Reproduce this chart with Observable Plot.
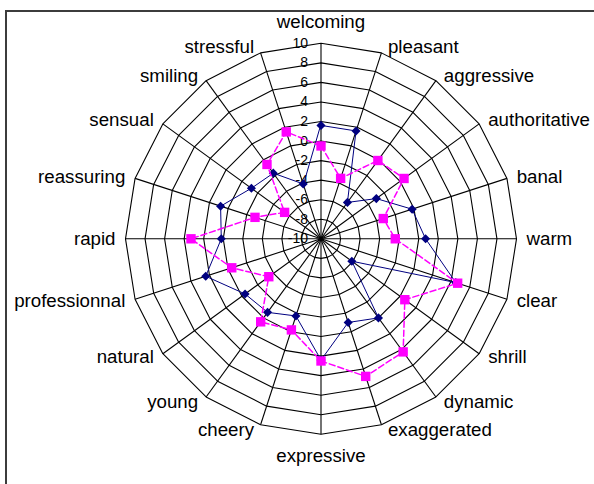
<!DOCTYPE html>
<html>
<head>
<meta charset="utf-8">
<script src="https://cdn.jsdelivr.net/npm/d3@7"></script>
<script src="https://cdn.jsdelivr.net/npm/@observablehq/plot@0.6"></script>
<style>
  html, body { margin: 0; padding: 0; background: #fff; }
  #wrap { position: relative; width: 594px; height: 484px; overflow: hidden; }
  #frame { position: absolute; left: 5px; top: 10px; width: 640px; height: 640px;
           border-top: 2px solid #3c3c3c; border-left: 2px solid #3c3c3c; }
  #chart { position: absolute; left: 0; top: 0; }
</style>
</head>
<body>
<div id="wrap"><div id="frame"></div><div id="chart"></div></div>
<script>
const categories = ["welcoming","pleasant","aggressive","authoritative","banal","warm","clear","shrill","dynamic","exaggerated","expressive","cheery","young","natural","professionnal","rapid","reassuring","sensual","smiling","stressful"];
const seriesNavy = [1.6, 1.6, -5.4, -3.0, -0.2, 0.7, 4.5, -6.1, 0.0, -1.0, 2.4, -1.7, -0.7, -0.4, 2.4, 0.2, 0.8, -1.2, -1.7, -4.1];
const seriesPink = [-0.5, -3.5, -0.1, 0.5, -3.3, -2.4, 4.7, 0.6, 4.3, 4.8, 2.5, -0.2, 0.5, -3.4, -0.4, 3.3, -2.9, -5.4, -0.6, 1.5];
const tickValues = [10, 8, 6, 4, 2, 0, -2, -4, -6, -8, -10];

const W = 594, H = 484;
const cx = 320.5, cy = 238.3, R = 195.5;
const vMin = -10, vMax = 10;
const k = R / (vMax - vMin);          // px per value unit
const n = categories.length;
const ang = i => i * 2 * Math.PI / n;
const rad = v => v - vMin;
const pt = (i, v) => ({x: rad(v) * Math.sin(ang(i)), y: rad(v) * Math.cos(ang(i))});

const navy = seriesNavy.map((v, i) => ({cat: categories[i], v, ...pt(i, v)}));
const pink = seriesPink.map((v, i) => ({cat: categories[i], v, ...pt(i, v)}));

const rings = tickValues.filter(v => v > vMin).flatMap(v => categories.map((c, i) => ({ring: v, ...pt(i, v)})));
const spokes = categories.map((c, i) => {
  const o = pt(i, vMin), e = pt(i, vMax);
  return {x1: o.x, y1: o.y, x2: e.x, y2: e.y};
});

const labels = categories.map((c, i) => {
  const s = Math.sin(ang(i)), co = Math.cos(ang(i));
  const e = pt(i, vMax);
  let anchor, dxp, dyp;
  if (Math.abs(s) < 0.1) { anchor = "middle"; dxp = 0; dyp = co > 0 ? -21 : 21.5; }
  else { anchor = s > 0 ? "start" : "end"; dxp = Math.sign(s) * (5 + 5 * Math.abs(s)); dyp = -6 * co; }
  return {text: c, anchor, x: e.x + dxp / k, y: e.y - dyp / k};
});

const xDomain = [-cx / k, (W - cx) / k];
const yDomain = [-(H - cy) / k, cy / k];

const labelMark = a => Plot.text(labels.filter(d => d.anchor === a), {
  x: "x", y: "y", text: "text", textAnchor: a, fontSize: 18.7, fill: "#000"
});

const chart = Plot.plot({
  width: W, height: H,
  margin: 0,
  x: {type: "linear", domain: xDomain, range: [0, W], axis: null},
  y: {type: "linear", domain: yDomain, range: [H, 0], axis: null},
  style: {fontFamily: "'Liberation Sans', Arial, sans-serif", background: "transparent"},
  marks: [
    Plot.line(rings, {x: "x", y: "y", z: "ring", curve: "linear-closed", stroke: "#000", strokeWidth: 1.1}),
    Plot.link(spokes, {x1: "x1", y1: "y1", x2: "x2", y2: "y2", stroke: "#000", strokeWidth: 1.1}),
    Plot.text(tickValues, {x: () => 0, y: v => rad(v), text: v => String(v), textAnchor: "end", dx: -13, fontSize: 14, fill: "#000"}),
    labelMark("start"), labelMark("end"), labelMark("middle"),
    Plot.line(navy, {x: "x", y: "y", curve: "linear-closed", stroke: "#000080", strokeWidth: 1}),
    Plot.dot(navy, {x: "x", y: "y", symbol: "diamond2", r: 4.1, fill: "#000080", stroke: "none"}),
    Plot.line(pink, {x: "x", y: "y", curve: "linear-closed", stroke: "#FF00FF", strokeWidth: 1.5, strokeDasharray: "6,3"}),
    Plot.dot(pink, {x: "x", y: "y", symbol: "square", r: 5.3, fill: "#FF00FF", stroke: "none"})
  ]
});
document.getElementById("chart").appendChild(chart);
</script>
</body>
</html>
